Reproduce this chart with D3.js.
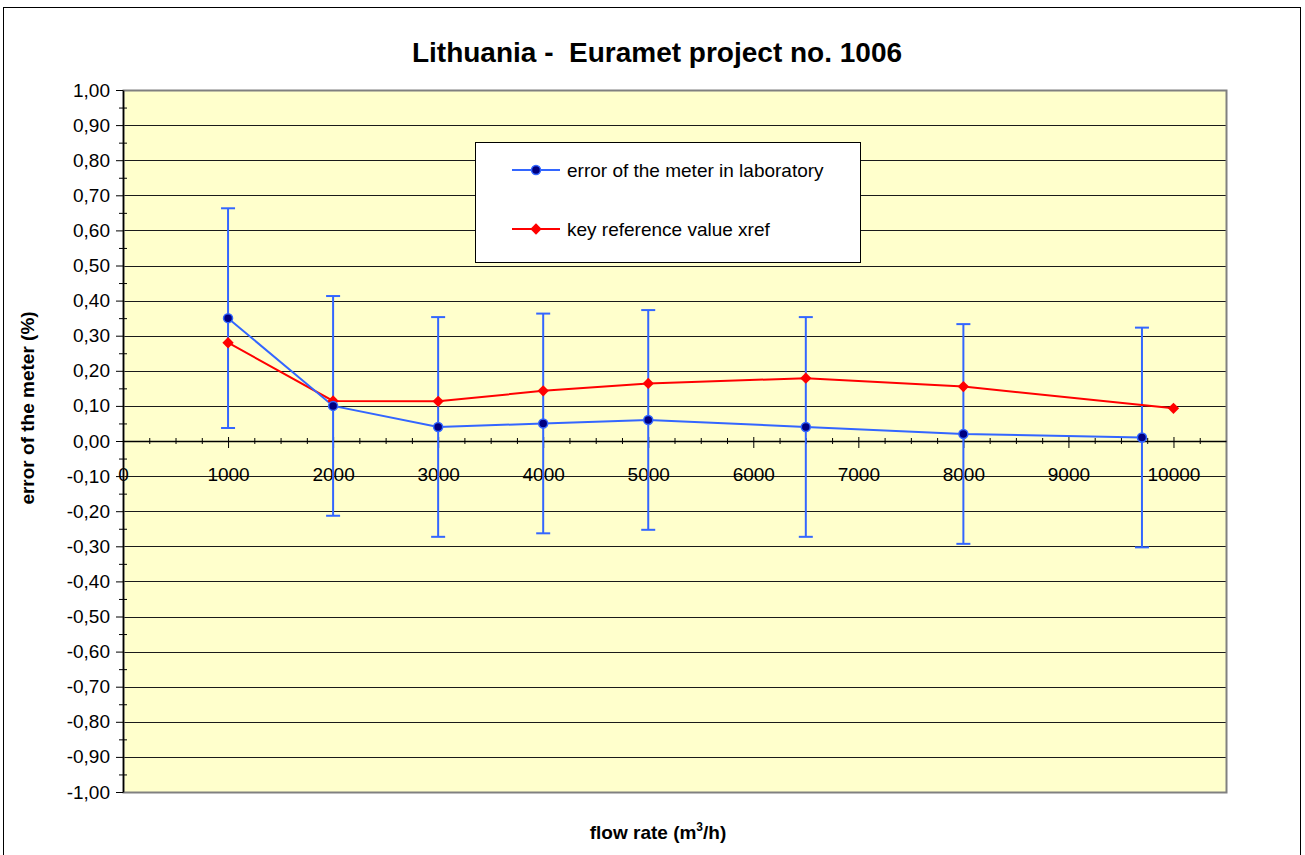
<!DOCTYPE html>
<html>
<head>
<meta charset="utf-8">
<script src="https://cdn.jsdelivr.net/npm/d3@7"></script>
<style>
  body { margin: 0; background: #fff; }
  text { font-family: "Liberation Sans", Arial, sans-serif; }
</style>
</head>
<body>
<div id="chart"></div>
<script>
// data
var flowLab   = [1000, 2000, 3000, 4000, 5000, 6500, 8000, 9700];
var errorLab  = [0.35, 0.10, 0.04, 0.05, 0.06, 0.04, 0.02, 0.01];
var uncertLab = [0.313, 0.313, 0.313, 0.313, 0.313, 0.313, 0.313, 0.313];

var flowRef   = [1000, 2000, 3000, 4000, 5000, 6500, 8000, 10000];
var xref      = [0.28, 0.114, 0.113, 0.143, 0.164, 0.179, 0.155, 0.093];

var xTicks = [0, 1000, 2000, 3000, 4000, 5000, 6000, 7000, 8000, 9000, 10000];
var yTicks = [-1, -0.9, -0.8, -0.7, -0.6, -0.5, -0.4, -0.3, -0.2, -0.1, 0,
              0.1, 0.2, 0.3, 0.4, 0.5, 0.6, 0.7, 0.8, 0.9, 1];

var seriesNames = ["error of the meter in laboratory", "key reference value xref"];

var W = 1305, H = 855;
var plot = {left: 123, right: 1226, top: 90, bottom: 792};
var blue = "#3366ff", navy = "#000080", red = "#ff0000";

var svg = d3.select("#chart").append("svg")
    .attr("width", W)
    .attr("height", H);

// outer chart frame
svg.append("rect")
    .attr("x", 3.5).attr("y", 7.5)
    .attr("width", 1297).attr("height", 860)
    .attr("fill", "#fff")
    .attr("stroke", "#000");

var x = d3.scaleLinear().domain([0, 10500]).range([plot.left, plot.right]);
var y = d3.scaleLinear().domain([-1, 1]).range([plot.bottom, plot.top]);

var comma = d3.formatLocale({decimal: ",", thousands: ".", grouping: [3], currency: ["", ""], minus: "-"});
var fmtY = comma.format(".2f");

// plot area
svg.append("rect")
    .attr("x", plot.left).attr("y", plot.top)
    .attr("width", plot.right - plot.left).attr("height", plot.bottom - plot.top)
    .attr("fill", "#ffffcc");

// horizontal grid
svg.selectAll("gridline")
  .data(yTicks.filter(function(d) { return d > -1 && d < 1; }))
  .enter()
  .append("line")
    .attr("x1", plot.left).attr("x2", plot.right)
    .attr("y1", function(d) { return Math.round(y(d)) + 0.5; })
    .attr("y2", function(d) { return Math.round(y(d)) + 0.5; })
    .attr("stroke", "#1a1a1a")
    .attr("stroke-width", 1);

// plot border (grey)
svg.append("rect")
    .attr("x", plot.left + 0.5).attr("y", plot.top + 0.5)
    .attr("width", plot.right - plot.left).attr("height", plot.bottom - plot.top)
    .attr("fill", "none")
    .attr("stroke", "#808080")
    .attr("stroke-width", 2);

// Y axis
var yAxis = svg.append("g")
    .attr("transform", "translate(" + plot.left + ",0)")
    .call(d3.axisLeft(y).tickValues(yTicks).tickFormat(fmtY).tickSize(7).tickSizeOuter(0).tickPadding(6));
yAxis.select(".domain").attr("stroke", "#000").attr("stroke-width", 1.5);
yAxis.selectAll("text").attr("font-size", 19).attr("fill", "#000")
    .style("font-family", "'Liberation Sans', Arial, sans-serif");

// Y minor ticks
var yMinor = svg.append("g")
    .attr("transform", "translate(" + plot.left + ",0)")
    .call(d3.axisLeft(y).tickValues(yTicks.slice(1).map(function(d) { return d - 0.05; }))
      .tickFormat("").tickSize(4).tickSizeOuter(0));
yMinor.select(".domain").remove();
yMinor.selectAll("line").attr("x2", 4).attr("x1", -4);

// X axis on the zero line
var xAxis = svg.append("g")
    .attr("transform", "translate(0," + Math.round(y(0)) + ")")
    .call(d3.axisBottom(x).tickValues(xTicks).tickFormat(d3.format("d"))
      .tickSize(7).tickSizeOuter(0).tickPadding(20));
xAxis.select(".domain").attr("stroke", "#000").attr("stroke-width", 1.5);
xAxis.selectAll(".tick line").attr("y1", -4);
xAxis.selectAll("text").attr("font-size", 19).attr("fill", "#000")
    .style("font-family", "'Liberation Sans', Arial, sans-serif");

// X minor ticks every 250
var xMinor = svg.append("g")
    .attr("transform", "translate(0," + Math.round(y(0)) + ")")
    .call(d3.axisBottom(x).tickValues(d3.range(250, 10500, 250).filter(function(d) { return d % 1000 != 0; }))
      .tickFormat("").tickSize(3).tickSizeOuter(0));
xMinor.select(".domain").remove();
xMinor.selectAll("line").attr("y1", -3);

// error bars
var bars = svg.append("g").attr("stroke", blue).attr("stroke-width", 2);
flowLab.forEach(function(f, i) {
  var top = y(errorLab[i] + uncertLab[i]), bot = y(errorLab[i] - uncertLab[i]);
  bars.append("line").attr("x1", x(f)).attr("x2", x(f)).attr("y1", top).attr("y2", bot);
  bars.append("line").attr("x1", x(f) - 7).attr("x2", x(f) + 7).attr("y1", top).attr("y2", top);
  bars.append("line").attr("x1", x(f) - 7).attr("x2", x(f) + 7).attr("y1", bot).attr("y2", bot);
});

var line = d3.line()
    .x(function(d) { return x(d[0]); })
    .y(function(d) { return y(d[1]); });

// red line (key reference value)
svg.append("path")
    .datum(d3.zip(flowRef, xref))
    .attr("d", line)
    .attr("fill", "none")
    .attr("stroke", red)
    .attr("stroke-width", 2);

// blue line (laboratory)
svg.append("path")
    .datum(d3.zip(flowLab, errorLab))
    .attr("d", line)
    .attr("fill", "none")
    .attr("stroke", blue)
    .attr("stroke-width", 2);

var diamond = d3.symbol().type(d3.symbolSquare).size(64);

svg.selectAll("reddots")
  .data(d3.zip(flowRef, xref))
  .enter()
  .append("path")
    .attr("d", diamond)
    .attr("transform", function(d) { return "translate(" + x(d[0]) + "," + y(d[1]) + ") rotate(45)"; })
    .attr("fill", red);

svg.selectAll("bluedots")
  .data(d3.zip(flowLab, errorLab))
  .enter()
  .append("circle")
    .attr("cx", function(d) { return x(d[0]); })
    .attr("cy", function(d) { return y(d[1]); })
    .attr("r", 4.5)
    .attr("fill", navy)
    .attr("stroke", blue)
    .attr("stroke-width", 1.5);

// legend
var lg = svg.append("g");
lg.append("rect")
    .attr("x", 475.5).attr("y", 142.5)
    .attr("width", 385).attr("height", 120)
    .attr("fill", "#fff")
    .attr("stroke", "#000");
var legY = [170, 229];
seriesNames.forEach(function(name, i) {
  var c = i == 0 ? blue : red;
  lg.append("line")
      .attr("x1", 512).attr("x2", 560)
      .attr("y1", legY[i]).attr("y2", legY[i])
      .attr("stroke", c).attr("stroke-width", 2);
  if (i == 0) {
    lg.append("circle").attr("cx", 536).attr("cy", legY[i]).attr("r", 4.5)
        .attr("fill", navy).attr("stroke", blue).attr("stroke-width", 1.5);
  } else {
    lg.append("path").attr("d", diamond)
        .attr("transform", "translate(536," + legY[i] + ") rotate(45)")
        .attr("fill", red);
  }
  lg.append("text")
      .attr("x", 567).attr("y", legY[i])
      .attr("dy", "0.35em")
      .attr("font-size", 19)
      .text(name);
});

// titles
svg.append("text")
    .attr("x", 657).attr("y", 62)
    .attr("text-anchor", "middle")
    .attr("font-size", 28)
    .attr("font-weight", "bold")
    .style("white-space", "pre")
    .text("Lithuania -  Euramet project no. 1006");

svg.append("text")
    .attr("transform", "translate(34,408) rotate(-90)")
    .attr("text-anchor", "middle")
    .attr("font-size", 19)
    .attr("font-weight", "bold")
    .text("error of the meter (%)");

var xt = svg.append("text")
    .attr("x", 658).attr("y", 839)
    .attr("text-anchor", "middle")
    .attr("font-size", 19)
    .attr("font-weight", "bold");
xt.append("tspan").text("flow rate (m");
xt.append("tspan").attr("font-size", 12).attr("dy", -8).text("3");
xt.append("tspan").attr("dy", 8).text("/h)");
</script>
</body>
</html>
